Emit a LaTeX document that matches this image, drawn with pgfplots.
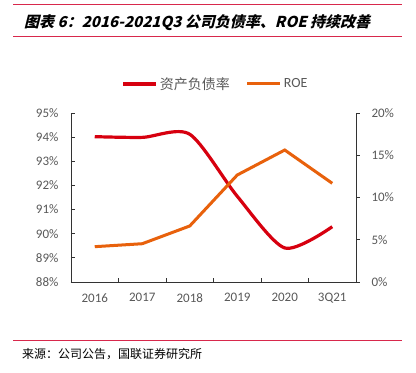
\documentclass[border=0pt]{standalone}
\usepackage{fontspec}
\usepackage{pgfplots}
\pgfplotsset{compat=1.18}
\setmainfont{Carlito}
\newfontfamily\cjk{Noto Sans CJK SC}
\newfontfamily\cjkt[FakeSlant=0.25]{Noto Sans CJK SC}
\definecolor{cred}{HTML}{D7000F}
\definecolor{corange}{HTML}{E8610C}
\definecolor{crim}{HTML}{D8284C}
\definecolor{tgray}{HTML}{595959}
\begin{document}
\begin{tikzpicture}[x=1pt,y=1pt]
\useasboundingbox (0,0) rectangle (416,373);
\fill[white] (0,0) rectangle (416,373);
\draw[crim,line width=1pt] (13,368) -- (402,368);
\draw[crim,line width=1pt] (13,336) -- (402,336);
\node[anchor=west,inner sep=0pt] at (24,350) {\fontsize{15}{17}\selectfont\cjkt\bfseries 图表 6：2016-2021Q3 公司负债率、ROE 持续改善};
\draw[crim,line width=1pt] (13,32) -- (402,32);
\node[anchor=west,inner sep=0pt] at (22,19) {\fontsize{12}{14}\selectfont\cjk 来源：公司公告，国联证券研究所};
\begin{axis}[
  at={(71pt,91pt)}, anchor=south west, scale only axis,
  width=285pt, height=169pt,
  xmin=0, xmax=6, ymin=88, ymax=95,
  axis y line*=left, axis x line*=bottom,
  axis line style={black!80, line width=0.8pt},
  xtick={0,...,6}, xticklabels={},
  extra x ticks={0.5,1.5,2.5,3.5,4.5,5.5},
  extra x tick labels={2016,2017,2018,2019,2020,3Q21},
  extra x tick style={major tick length=0pt, tick label style={yshift=-8pt}},
  ytick={88,...,95},
  yticklabel={\pgfmathprintnumber{\tick}\%},
  yticklabel style={xshift=-9pt},
  tick align=inside,
  major tick length=4pt,
  tick style={black!80, line width=0.8pt},
  tick label style={font=\fontsize{13}{15}\selectfont, text=tgray},
  /pgf/number format/assume math mode=true,
  legend columns=2,
  legend style={draw=none, fill=none, at={(0.507,1.172)}, anchor=center,
    font=\fontsize{14}{16}\selectfont\cjk, text=tgray,
    /tikz/every even column/.append style={column sep=14pt}},
  legend image code/.code={\draw[#1] (0pt,0pt) -- (33pt,0pt);},
]
\addplot[cred, line width=3.2pt, smooth, tension=0.45] coordinates {
  (0.5,94.02) (1.5,93.99) (2.5,94.12) (3.5,91.55) (4.5,89.41) (5.5,90.29)};
\addlegendentry{资产负债率}
\addlegendimage{corange, line width=3pt}
\addlegendentry{\rmfamily ROE}
\end{axis}
\begin{axis}[
  at={(71pt,91pt)}, anchor=south west, scale only axis,
  width=285pt, height=169pt,
  xmin=0, xmax=6, ymin=0, ymax=20,
  axis y line*=right, axis x line=none,
  axis line style={black!80, line width=0.8pt},
  ytick={0,5,10,15,20},
  yticklabel={\pgfmathprintnumber{\tick}\%},
  yticklabel style={xshift=8pt},
  tick align=outside,
  major tick length=4pt,
  tick style={black!80, line width=0.8pt},
  tick label style={font=\fontsize{13}{15}\selectfont, text=tgray},
  /pgf/number format/assume math mode=true,
]
\addplot[corange, line width=3pt] coordinates {
  (0.5,4.18) (1.5,4.53) (2.5,6.63) (3.5,12.66) (4.5,15.62) (5.5,11.68)};
\end{axis}
\end{tikzpicture}
\end{document}
